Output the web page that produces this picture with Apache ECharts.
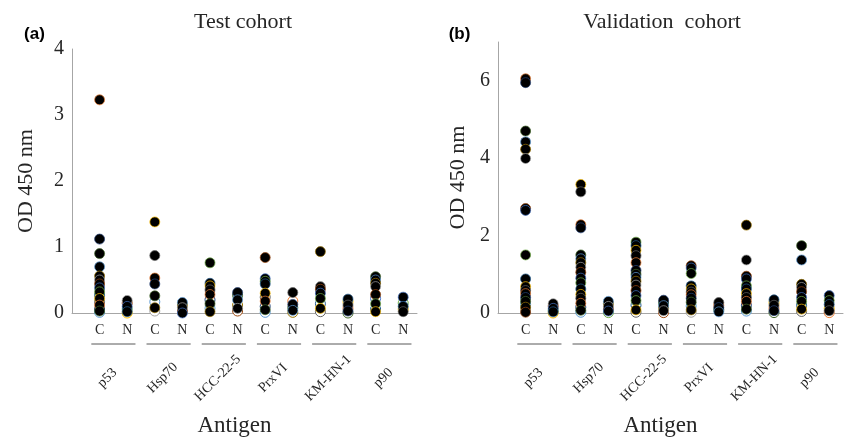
<!DOCTYPE html>
<html>
<head>
<meta charset="utf-8">
<script src="https://cdn.jsdelivr.net/npm/echarts@6.0.0/dist/echarts.min.js"></script>
<style>
  html, body { margin: 0; padding: 0; background: #fff; }
  #chart { width: 845px; height: 439px; }
</style>
</head>
<body>
<div id="chart"></div>
<script>
// antigens, each with a cancer (C) and a normal (N) column
var antigens = ["p53", "Hsp70", "HCC-22-5", "PrxVI", "KM-HN-1", "p90"];
var groupLabels = ["C", "N"];

// OD 450 nm, test cohort
var testCancer = [
  [3.23, 1.12, 0.90, 0.70, 0.56, 0.50, 0.44, 0.38, 0.32, 0.27, 0.22, 0.17, 0.12, 0.06, 0.03, 0.01],
  [1.38, 0.87, 0.53, 0.44, 0.26, 0.17, 0.08, 0.03],
  [0.76, 0.45, 0.41, 0.35, 0.28, 0.20, 0.14, 0.07, 0.02],
  [0.84, 0.52, 0.48, 0.44, 0.30, 0.24, 0.18, 0.10, 0.05, 0.01],
  [0.93, 0.40, 0.36, 0.30, 0.22, 0.14, 0.07, 0.02],
  [0.55, 0.50, 0.45, 0.40, 0.28, 0.22, 0.14, 0.06, 0.02]
];
var testNormal = [
  [0.19, 0.15, 0.10, 0.06, 0.02, 0.00],
  [0.16, 0.12, 0.08, 0.03, 0.00],
  [0.31, 0.27, 0.20, 0.12, 0.07, 0.03],
  [0.31, 0.18, 0.13, 0.08, 0.04, 0.01],
  [0.21, 0.17, 0.12, 0.07, 0.03, 0.00],
  [0.24, 0.15, 0.10, 0.06, 0.02]
];

// validation cohort
var validCancer = [
  [6.05, 5.95, 4.70, 4.42, 4.23, 3.99, 2.70, 2.65, 1.50, 0.88, 0.68, 0.58, 0.50, 0.40, 0.30, 0.22, 0.15, 0.08, 0.02],
  [3.32, 3.13, 2.28, 2.20, 1.50, 1.40, 1.30, 1.18, 1.05, 0.90, 0.78, 0.62, 0.48, 0.38, 0.25, 0.15, 0.07, 0.02],
  [1.83, 1.74, 1.62, 1.48, 1.30, 1.10, 1.00, 0.92, 0.82, 0.72, 0.58, 0.45, 0.32, 0.20, 0.08, 0.02],
  [1.22, 1.16, 1.02, 0.70, 0.62, 0.54, 0.47, 0.38, 0.28, 0.18, 0.08, 0.02],
  [2.27, 1.37, 0.95, 0.88, 0.70, 0.62, 0.50, 0.40, 0.30, 0.20, 0.10, 0.05],
  [1.74, 1.37, 0.74, 0.66, 0.55, 0.40, 0.30, 0.20, 0.10, 0.04]
];
var validNormal = [
  [0.24, 0.18, 0.12, 0.07, 0.03, 0.00],
  [0.30, 0.24, 0.17, 0.10, 0.05, 0.01],
  [0.33, 0.26, 0.19, 0.12, 0.06, 0.01],
  [0.27, 0.20, 0.14, 0.08, 0.03],
  [0.34, 0.27, 0.20, 0.12, 0.06, 0.01],
  [0.45, 0.32, 0.22, 0.12, 0.06, 0.01]
];

var testTicks = [0, 1, 2, 3, 4];
var validTicks = [0, 2, 4, 6];

var palette = ["#4472C4", "#ED7D31", "#A5A5A5", "#FFC000", "#5B9BD5", "#70AD47",
  "#264478", "#9E480E", "#636363", "#997300", "#255E91", "#43682B"];
var serif = '"Liberation Serif", "Times New Roman", serif';
var ink = "#262626";

// split into open and filled markers, border colour cycles like excel series
function buildPoints(cancer, normal) {
  var open = [], filled = [];
  function push(x, v, i) {
    var item = { value: [x, v], itemStyle: { borderColor: palette[(i * 5 + x) % palette.length] } };
    if (v < 0.3 && i % 2 === 1) open.push(item);
    else filled.push(item);
  }
  for (var k = 0; k < antigens.length; k++) {
    cancer[k].forEach(function (v, i) { push(2 * k + 1, v, i); });
    normal[k].forEach(function (v, i) { push(2 * k + 2, v, i); });
  }
  return { open: open, filled: filled };
}

function groupRender(params, api) {
  var k = api.value(0);
  var a = api.coord([2 * k + 0.7, 0]);
  var b = api.coord([2 * k + 2.3, 0]);
  var c = api.coord([2 * k + 1.5, 0]);
  return {
    type: "group",
    children: [
      { type: "line", shape: { x1: a[0], y1: a[1] + 31, x2: b[0], y2: b[1] + 31 },
        style: { stroke: "#595959", lineWidth: 1 } },
      { type: "text", x: c[0] - 6, y: c[1] + 65, rotation: Math.PI / 4,
        style: { text: antigens[k], font: "14px " + serif, fill: ink,
          align: "center", verticalAlign: "middle" } }
    ]
  };
}

function panelSeries(idx, pts) {
  return [
    { type: "scatter", xAxisIndex: idx, yAxisIndex: idx, symbolSize: 10, data: pts.open,
      itemStyle: { color: "#fff", borderWidth: 1, opacity: 1 } },
    { type: "scatter", xAxisIndex: idx, yAxisIndex: idx, symbolSize: 10, data: pts.filled,
      itemStyle: { color: "#000", borderWidth: 0.7, opacity: 1 } },
    { type: "custom", xAxisIndex: idx, yAxisIndex: idx, silent: true, clip: false,
      data: antigens.map(function (n, i) { return [i]; }), renderItem: groupRender }
  ];
}

function xAxisOpt(idx) {
  return {
    type: "value", gridIndex: idx, min: 0, max: 12.5, interval: 1,
    name: "Antigen", nameLocation: "middle", nameGap: 101,
    nameTextStyle: { fontFamily: serif, fontSize: 23, color: ink, padding: [0, 20, 0, 0] },
    axisLine: { lineStyle: { color: "#a6a6a6", width: 1 } },
    axisTick: { show: false },
    splitLine: { show: false },
    axisLabel: {
      margin: 10, fontFamily: serif, fontSize: 14, color: ink,
      formatter: function (v) {
        if (v < 1 || v > 12 || v % 1 !== 0) return "";
        return groupLabels[(v - 1) % 2];
      }
    }
  };
}

function yAxisOpt(idx, ticks, max, gap) {
  return {
    type: "value", gridIndex: idx, min: 0, max: max, interval: ticks[1] - ticks[0],
    name: "OD 450 nm", nameLocation: "middle", nameGap: gap,
    nameTextStyle: { fontFamily: serif, fontSize: 22, color: ink },
    axisLine: { show: true, lineStyle: { color: "#a6a6a6", width: 1 } },
    axisTick: { show: false },
    splitLine: { show: false },
    axisLabel: {
      margin: 8, fontFamily: serif, fontSize: 20, color: ink,
      formatter: function (v) { return ticks.indexOf(v) >= 0 ? String(v) : ""; }
    }
  };
}

var chart = echarts.init(document.getElementById("chart"), null, { renderer: "canvas" });
var testPts = buildPoints(testCancer, testNormal);
var validPts = buildPoints(validCancer, validNormal);

chart.setOption({
  animation: false,
  backgroundColor: "#fff",
  grid: [
    { left: 72, top: 49, width: 345, height: 264, outerBoundsMode: "none", containLabel: false },
    { left: 498, top: 42, width: 345, height: 271, outerBoundsMode: "none", containLabel: false }
  ],
  xAxis: [xAxisOpt(0), xAxisOpt(1)],
  yAxis: [yAxisOpt(0, testTicks, 4, 35), yAxisOpt(1, validTicks, 7, 29)],
  series: panelSeries(0, testPts).concat(panelSeries(1, validPts)),
  graphic: [
    { type: "text", x: 243, y: 22, style: { text: "Test cohort", font: "22px " + serif,
      fill: ink, align: "center", verticalAlign: "middle" } },
    { type: "text", x: 662, y: 22, style: { text: "Validation  cohort", font: "22px " + serif,
      fill: ink, align: "center", verticalAlign: "middle" } },
    { type: "text", x: 34.5, y: 34, style: { text: "(a)", font: 'bold 17px "Liberation Sans", Arial, sans-serif',
      fill: "#000", align: "center", verticalAlign: "middle" } },
    { type: "text", x: 459.5, y: 34, style: { text: "(b)", font: 'bold 17px "Liberation Sans", Arial, sans-serif',
      fill: "#000", align: "center", verticalAlign: "middle" } }
  ]
});
</script>
</body>
</html>
